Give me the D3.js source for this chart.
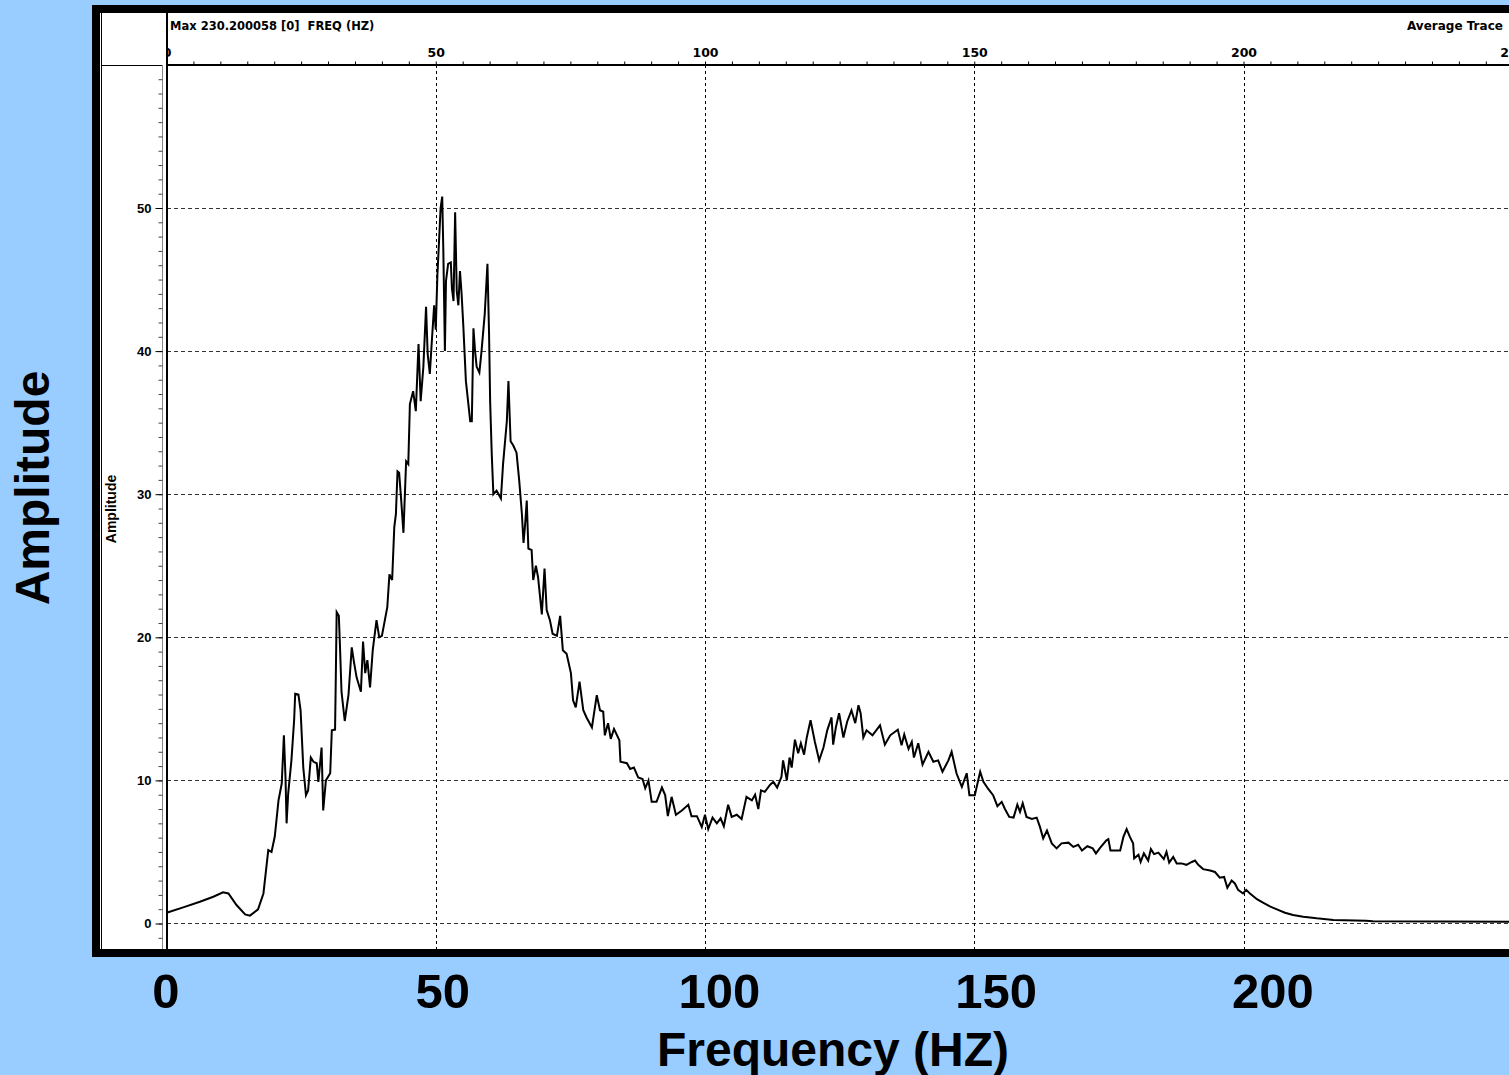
<!DOCTYPE html>
<html>
<head>
<meta charset="utf-8">
<script src="https://cdn.jsdelivr.net/npm/d3@7"></script>
<style>
    html, body { margin: 0; padding: 0; background: #99ccff; overflow: hidden; }
    svg { display: block; }
    text { white-space: pre; }
</style>
</head>
<body>
<svg id="chart"></svg>
<script>
// spectrum: frequency (Hz) and amplitude
const freqs = [0, 3.1, 6.2, 8.7, 10.5, 11.5, 13.0, 14.6, 15.5, 17.0, 18.0, 18.9, 19.5, 20.1, 20.8, 21.4, 21.8, 22.1, 22.3, 22.6,
    23.2, 23.7, 23.9, 24.5, 24.9, 25.4, 25.9, 26.3, 26.8, 27.3, 27.9, 28.2, 28.8, 29.1, 29.6, 30.4, 30.7, 31.3, 31.4, 31.6,
    32.0, 32.2, 32.5, 33.1, 33.8, 34.4, 34.8, 35.3, 36.1, 36.5, 36.9, 37.3, 37.8, 38.3, 39.0, 39.5, 40.0, 41.0, 41.4, 41.9,
    42.3, 42.6, 42.9, 43.2, 43.6, 44.0, 44.5, 44.9, 45.2, 45.8, 46.3, 46.8, 47.2, 47.7, 48.2, 48.5, 48.9, 49.2, 49.7, 50.0,
    50.3, 50.7, 50.9, 51.2, 51.4, 51.7, 51.9, 52.3, 52.8, 53.0, 53.3, 53.6, 53.9, 54.2, 54.5, 54.8, 55.1, 55.6, 56.4, 56.7,
    57.0, 57.3, 57.6, 58.1, 58.5, 59.1, 59.6, 59.9, 60.1, 60.4, 60.7, 61.3, 62.1, 62.5, 63.2, 63.5, 63.9, 64.4, 65.0, 65.5,
    66.0, 66.3, 66.6, 66.9, 67.2, 67.8, 68.1, 68.6, 69.0, 69.7, 70.2, 70.6, 71.2, 71.7, 72.5, 73.1, 73.6, 74.3, 75.1, 75.5,
    76.0, 76.7, 77.4, 78.0, 79.0, 79.9, 80.5, 81.1, 81.4, 82.0, 82.5, 83.1, 84.1, 84.3, 85.5, 86.1, 86.8, 87.6, 88.4, 88.9,
    89.5, 90.1, 91.0, 92.0, 92.6, 93.1, 93.8, 94.6, 95.7, 96.9, 97.5, 98.5, 99.4, 100.0, 100.6, 101.4, 102.2, 102.9, 103.5, 104.3,
    104.95, 105.9, 106.8, 107.7, 108.7, 109.3, 109.9, 110.4, 111.1, 112.1, 112.7, 113.4, 114.2, 114.5, 115.2, 115.7, 116.1, 116.7, 117.3, 117.8,
    118.4, 118.9, 119.6, 120.4, 121.2, 122.0, 122.7, 123.5, 123.8, 124.3, 124.9, 125.7, 126.4, 127.2, 127.9, 128.5, 128.9, 129.4, 130.0, 131.1,
    132.5, 133.4, 134.4, 135.8, 136.5, 137.0, 137.8, 138.4, 138.8, 139.6, 140.4, 141.5, 142.4, 143.3, 144.1, 145.2, 145.8, 146.7, 147.7, 148.6,
    149.1, 150.1, 151.1, 151.7, 152.6, 153.5, 154.3, 155.1, 155.7, 156.5, 157.3, 158.0, 158.5, 159.0, 159.7, 160.7, 161.6, 162.2, 162.8, 163.5,
    164.4, 165.3, 166.2, 167.5, 168.4, 169.3, 170.0, 171.0, 172.0, 172.6, 173.4, 174.5, 174.9, 175.3, 176.1, 177.1, 177.7, 178.3, 178.9, 179.5,
    179.7, 180.5, 180.9, 181.5, 182.3, 182.8, 183.4, 184.2, 185.2, 185.7, 186.2, 186.95, 187.6, 188.5, 189.4, 190.4, 191.0, 191.6, 192.5, 193.8,
    194.7, 195.6, 196.4, 197.0, 197.8, 198.4, 199.0, 199.9, 200.5, 201.2, 202.5, 203.7, 204.9, 206.2, 207.7, 209.2, 211.1, 213.6, 216.7, 222.8,
    224.0, 250];
const amps = [0.75, 1.13, 1.52, 1.87, 2.18, 2.1, 1.29, 0.64, 0.55, 0.99, 2.1, 5.13, 5.0, 6.06, 8.6, 9.78, 13.15, 10.2, 7.0, 9.1,
    11.4, 14.2, 16.06, 16.0, 14.9, 10.9, 8.97, 9.3, 11.6, 11.3, 11.2, 9.9, 12.3, 7.9, 10.0, 10.5, 13.5, 13.55, 16.1, 21.76,
    21.5, 19.55, 16.2, 14.15, 16.0, 19.3, 18.3, 17.2, 16.2, 19.7, 17.5, 18.4, 16.5, 19.1, 21.2, 20.0, 20.1, 22.1, 24.4, 24.0,
    27.7, 28.6, 31.6, 31.5, 29.5, 27.3, 32.3, 32.1, 36.3, 37.2, 35.8, 40.5, 36.5, 38.9, 43.1, 39.8, 38.4, 40.25, 43.2, 41.5,
    45.25, 48.4, 50.0, 50.8, 47.2, 40.0, 44.9, 46.1, 46.2, 44.4, 43.5, 49.7, 44.2, 43.2, 45.6, 44.0, 41.9, 37.9, 35.1, 35.1,
    41.6, 40.0, 38.9, 38.5, 40.0, 42.6, 46.1, 41.2, 36.5, 32.8, 30.0, 30.25, 29.7, 32.1, 35.1, 37.9, 33.7, 33.4, 32.9, 30.95,
    28.6, 26.6, 27.9, 29.55, 26.2, 26.1, 24.0, 25.0, 24.2, 21.6, 24.8, 21.9, 21.2, 20.25, 20.1, 21.5, 19.1, 18.85, 17.5, 15.6,
    15.1, 16.9, 14.9, 14.4, 13.7, 15.95, 14.9, 14.8, 13.15, 14.0, 12.9, 13.6, 12.8, 11.3, 11.2, 10.8, 10.9, 10.2, 10.1, 9.45,
    10.0, 8.5, 8.5, 9.5, 8.97, 7.5, 8.85, 7.6, 7.9, 8.3, 7.5, 7.5, 6.75, 7.6, 6.6, 7.4, 7.0, 7.35, 6.8, 8.3,
    7.45, 7.6, 7.3, 8.85, 8.6, 9.0, 8.0, 9.3, 9.2, 9.7, 9.9, 9.5, 10.25, 11.4, 10.0, 11.6, 10.9, 12.85, 11.9, 12.6,
    11.8, 13.0, 14.2, 12.7, 11.4, 12.3, 13.5, 14.4, 12.5, 13.7, 14.7, 13.0, 14.1, 14.9, 14.0, 15.25, 14.7, 13.0, 13.5, 13.15,
    13.85, 12.5, 13.15, 13.55, 12.45, 13.2, 12.2, 12.7, 11.6, 12.6, 11.1, 12.0, 11.3, 11.4, 10.6, 11.4, 12.0, 10.5, 9.55, 10.5,
    8.97, 8.97, 10.6, 9.9, 9.4, 8.97, 8.2, 8.5, 8.0, 7.45, 7.4, 8.3, 7.8, 8.4, 7.45, 7.3, 7.4, 6.75, 5.95, 6.5,
    5.6, 5.25, 5.6, 5.65, 5.35, 5.5, 5.1, 5.4, 5.25, 4.9, 5.3, 5.8, 5.9, 5.1, 5.1, 5.1, 6.05, 6.6, 6.05, 5.6,
    4.55, 4.8, 4.3, 4.9, 4.4, 5.2, 4.85, 4.95, 4.5, 5.0, 4.25, 4.65, 4.2, 4.2, 4.1, 4.3, 4.4, 4.1, 3.8, 3.7,
    3.6, 3.2, 3.25, 2.5, 3.0, 2.8, 2.35, 2.1, 2.35, 2.1, 1.7, 1.45, 1.2, 0.99, 0.75, 0.59, 0.47, 0.36, 0.25, 0.2,
    0.15, 0.13];

const topTicks = [0, 50, 100, 150, 200, 250];
const xGridTicks = [50, 100, 150, 200];
const yGridTicks = [0, 10, 20, 30, 40, 50];
const bottomLabels = [0, 50, 100, 150, 200];
const headerText = "Max 230.200058 [0]  FREQ (HZ)";
const traceName = "Average Trace";
const innerYTitle = "Amplitude";
const yTitle = "Amplitude";
const xTitle = "Frequency (HZ)";

const W = 1509, H = 1075;
const font = "'Liberation Sans', Arial, sans-serif";
const wideFont = "'DejaVu Sans', Verdana, sans-serif";

const svg = d3.select("#chart").attr("width", W).attr("height", H);

/* plot window (software screenshot) */
const plot = { left: 167, top: 65, right: W, bottom: 949 };

const x = d3.scaleLinear().domain([0, 250]).range([166.5, 1512.75]);
const y = d3.scaleLinear().domain([0, 60]).range([923.5, 64.9]);
// the slide's big labels sit slightly off the plot ticks
const xOuter = d3.scaleLinear().domain([0, 200]).range([166, 1273]);

// black frame + white panel
svg.append("rect").attr("x", 92).attr("y", 5).attr("width", 1440).attr("height", 952).attr("fill", "#000");
svg.append("rect").attr("x", 100).attr("y", 13).attr("width", 1430).attr("height", 936).attr("fill", "#fff");
svg.append("line").attr("x1", 101.5).attr("x2", 101.5).attr("y1", 13).attr("y2", 949)
    .attr("stroke", "#000").attr("stroke-width", 1);

const defs = svg.append("defs");
defs.append("clipPath").attr("id", "plotClip")
  .append("rect")
    .attr("x", plot.left).attr("y", plot.top)
    .attr("width", plot.right - plot.left).attr("height", plot.bottom - plot.top);
defs.append("clipPath").attr("id", "topClip")
  .append("rect").attr("x", 167.5).attr("y", 13).attr("width", W).attr("height", 60);

// grid
const grid = svg.append("g").attr("clip-path", "url(#plotClip)");
grid.selectAll(".hgrid")
    .data(yGridTicks)
    .enter().append("line")
    .attr("x1", plot.left).attr("x2", plot.right)
    .attr("y1", (d) => y(d)).attr("y2", (d) => y(d))
    .attr("stroke", "#333").attr("stroke-width", 1).attr("stroke-dasharray", "4,3")
    .attr("shape-rendering", "crispEdges");
grid.selectAll(".vgrid")
    .data(xGridTicks)
    .enter().append("line")
    .attr("x1", (d) => Math.round(x(d)) + 0.5).attr("x2", (d) => Math.round(x(d)) + 0.5)
    .attr("y1", plot.top).attr("y2", plot.bottom)
    .attr("stroke", "#000").attr("stroke-width", 1).attr("stroke-dasharray", "3,3")
    .attr("shape-rendering", "crispEdges");

// trace
const line = d3.line()
    .x((d, i) => x(freqs[i]))
    .y((d) => y(d));

svg.append("path")
    .datum(amps)
    .attr("clip-path", "url(#plotClip)")
    .attr("fill", "none")
    .attr("stroke", "#000")
    .attr("stroke-width", 2)
    .attr("stroke-linejoin", "miter")
    .attr("d", line);

// top axis (outer group holds the clip so the 0 label is cut like the original)
const topAxis = svg.append("g")
    .attr("clip-path", "url(#topClip)")
  .append("g")
    .attr("transform", "translate(0, 64.5)")
    .call(d3.axisTop(x).tickValues(d3.range(0, 251, 5)).tickSize(3).tickSizeOuter(0).tickPadding(5)
        .tickFormat((d) => topTicks.includes(d) ? d : ""));
topAxis.select(".domain").attr("stroke-width", 2);
topAxis.selectAll("text")
    .attr("font-family", wideFont).attr("font-size", 12.5).attr("font-weight", "bold").attr("fill", "#000");

// left panel lines
svg.append("line").attr("x1", 101).attr("x2", 163).attr("y1", 65.5).attr("y2", 65.5).attr("stroke", "#000");
svg.append("line").attr("x1", 162.5).attr("x2", 162.5).attr("y1", 65).attr("y2", 949).attr("stroke", "#888");
svg.append("line").attr("x1", 167).attr("x2", 167).attr("y1", 13).attr("y2", 949)
    .attr("stroke", "#000").attr("stroke-width", 2);

// left axis: minor every unit, major every ten
const minorAxis = svg.append("g")
    .attr("transform", "translate(162.5, 0)")
    .call(d3.axisLeft(y).tickValues(d3.range(-1, 60)).tickSize(4).tickSizeOuter(0).tickFormat(""));
minorAxis.select(".domain").remove();
minorAxis.selectAll("line").attr("stroke", "#444");

const majorAxis = svg.append("g")
    .attr("transform", "translate(162.5, 0)")
    .call(d3.axisLeft(y).tickValues(yGridTicks).tickSize(7).tickPadding(4));
majorAxis.select(".domain").remove();
majorAxis.selectAll("text")
    .attr("font-family", font).attr("font-size", 13).attr("font-weight", "bold").attr("fill", "#000");

// header texts
svg.append("text")
    .attr("x", 170).attr("y", 30)
    .attr("font-family", wideFont).attr("font-size", 11.5).attr("font-weight", "bold")
    .text(headerText);
svg.append("text")
    .attr("x", 1407).attr("y", 30)
    .attr("font-family", wideFont).attr("font-size", 12).attr("font-weight", "bold")
    .text(traceName);

svg.append("text")
    .attr("transform", "translate(116, 509) rotate(-90)")
    .attr("text-anchor", "middle")
    .attr("font-family", font).attr("font-size", 14).attr("font-weight", "bold")
    .text(innerYTitle);

// slide labels on the blue background
svg.append("text")
    .attr("transform", "translate(49, 488) rotate(-90)")
    .attr("text-anchor", "middle")
    .attr("font-family", font).attr("font-size", 48).attr("font-weight", "bold")
    .text(yTitle);

svg.selectAll(".outerTick")
    .data(bottomLabels)
    .enter().append("text")
    .attr("x", (d) => xOuter(d)).attr("y", 1008)
    .attr("text-anchor", "middle")
    .attr("font-family", font).attr("font-size", 49).attr("font-weight", "bold")
    .text((d) => d);

svg.append("text")
    .attr("x", 833).attr("y", 1066)
    .attr("text-anchor", "middle")
    .attr("font-family", font).attr("font-size", 48).attr("font-weight", "bold")
    .text(xTitle);
</script>
</body>
</html>
